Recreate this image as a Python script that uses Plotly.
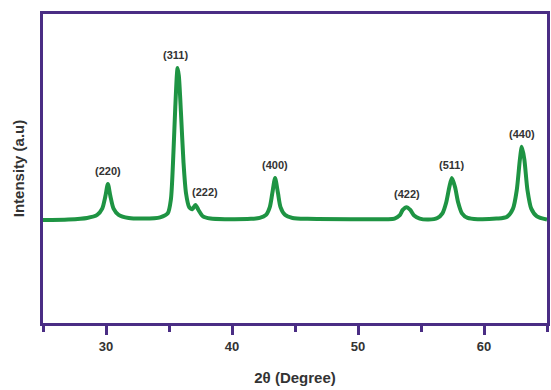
import plotly.graph_objects as go

# Curve points (2theta in degrees, intensity a.u.)
two_theta = [25.0, 27.0, 28.5, 29.3, 29.7, 29.95, 30.15, 30.35, 30.6, 31.0, 31.8, 33.0,
             34.3, 34.9, 35.15, 35.35, 35.5, 35.62, 35.68, 35.78, 35.95, 36.15, 36.35, 36.6,
             36.85, 37.1, 37.35, 37.7, 38.3, 39.5, 41.5,
             42.2, 42.7, 43.0, 43.2, 43.42, 43.65, 43.85, 44.2, 44.8, 46.0, 50.0, 52.3,
             52.9, 53.3, 53.55, 53.85, 54.15, 54.45, 54.9, 55.6,
             56.3, 56.7, 57.0, 57.25, 57.45, 57.7, 57.95, 58.25, 58.7, 59.5, 61.0,
             61.8, 62.3, 62.6, 62.85, 63.0, 63.2, 63.45, 63.75, 64.2, 65.0]
intensity = [33.3, 33.5, 34.0, 35.0, 37.0, 41.0, 45.0, 41.0, 37.0, 35.0, 34.0, 33.8,
             34.2, 35.5, 40.0, 55.0, 70.0, 80.0, 82.5, 80.0, 68.0, 52.0, 42.0, 37.5,
             36.8, 38.2, 36.5, 34.5, 33.8, 33.6, 33.7,
             34.0, 35.0, 37.5, 42.0, 46.9, 42.0, 37.5, 35.0, 34.0, 33.7, 33.6, 33.6,
             33.8, 34.8, 36.6, 37.5, 36.6, 34.8, 33.8, 33.5,
             34.0, 35.5, 39.0, 44.0, 46.9, 44.0, 39.0, 35.5, 34.0, 33.6, 33.8,
             34.3, 37.0, 43.0, 53.0, 57.0, 53.0, 43.0, 37.0, 34.5, 33.5]

# Peak labels (Miller indices)
peak_labels = ["(220)", "(311)", "(222)", "(400)", "(422)", "(511)", "(440)"]
peak_x = [30.15, 35.68, 37.1, 43.42, 53.85, 57.45, 63.0]
peak_y = [45.0, 82.5, 38.2, 46.9, 37.5, 46.9, 57.0]
label_dx = [0, -2, 10, 0, 0, 0, 0]

x_tick_vals = [30, 40, 50, 60]
x_tick_text = ["30", "40", "50", "60"]

purple = "#4a2d84"
green = "#1e9443"
font_family = "Arial, Liberation Sans, Helvetica, sans-serif"

fig = go.Figure()
fig.add_trace(go.Scatter(
    x=two_theta, y=intensity, mode="lines",
    line=dict(color=green, width=4, shape="spline", smoothing=0.7),
    hoverinfo="skip", showlegend=False,
))

for lab, px, py, dx in zip(peak_labels, peak_x, peak_y, label_dx):
    fig.add_annotation(
        x=px, y=py, text="<b>%s</b>" % lab, showarrow=False,
        xanchor="center", yanchor="bottom", yshift=5, xshift=dx,
        font=dict(family=font_family, size=11, color="#333333"),
    )

fig.update_layout(
    width=551, height=390,
    margin=dict(l=43, r=1, t=14, b=67),
    paper_bgcolor="white", plot_bgcolor="white",
    font=dict(family=font_family, color="#333333"),
)
fig.update_xaxes(
    range=[25, 65], showgrid=False, zeroline=False,
    showline=True, linecolor=purple, linewidth=3, mirror=True,
    tickmode="array", tickvals=x_tick_vals, ticktext=["<b>%s</b>" % t for t in x_tick_text],
    ticks="outside", ticklen=9, tickwidth=3, tickcolor=purple,
    tickfont=dict(family=font_family, size=13, color="#333333"),
    minor=dict(tickmode="linear", tick0=25, dtick=5, ticks="outside", ticklen=6,
               tickwidth=3, tickcolor=purple, showgrid=False),
    title=dict(text="<b>2θ (Degree)</b>", standoff=20,
               font=dict(family=font_family, size=15, color="#333333")),
)
fig.update_yaxes(
    range=[0, 100], showgrid=False, zeroline=False,
    showline=True, linecolor=purple, linewidth=3, mirror=True,
    showticklabels=False, ticks="",
    title=dict(text="<b>Intensity (a.u)</b>", standoff=12,
               font=dict(family=font_family, size=15, color="#333333")),
)

fig.write_html("out.html")
